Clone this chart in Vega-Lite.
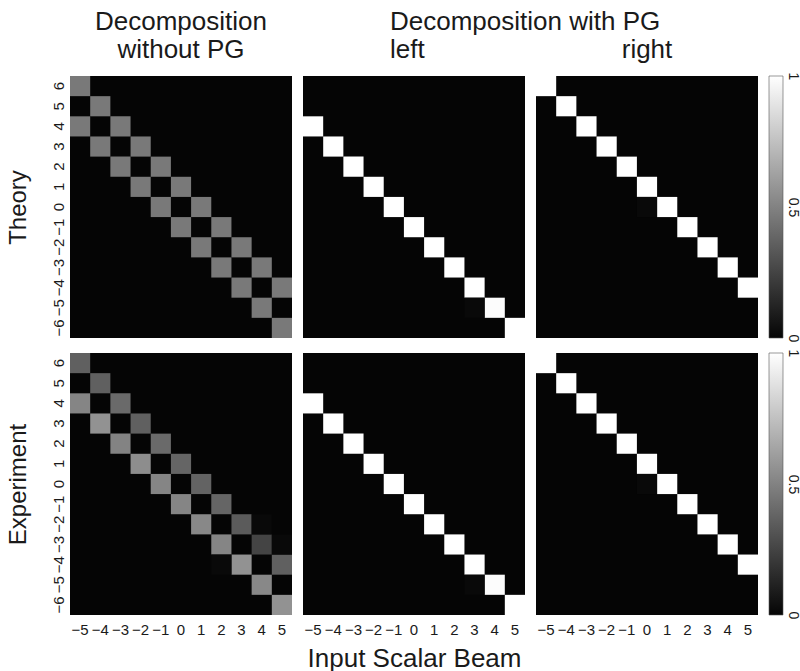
{
  "$schema": "https://vega.github.io/schema/vega-lite/v6.json",
  "padding": {"left": 6, "top": 9, "right": 2, "bottom": 5},
  "background": "white",
  "config": {
    "font": "Liberation Sans",
    "view": {"stroke": null},
    "title": {"fontSize": 26, "fontWeight": "normal", "lineHeight": 28, "offset": 13, "color": "#1a1a1a", "font": "Liberation Sans"},
    "axis": {"labelFont": "Liberation Sans", "titleFont": "Liberation Sans", "labelColor": "#1a1a1a", "titleColor": "#1a1a1a", "labelFontSize": 15, "titleFontSize": 24, "titleFontWeight": "normal", "ticks": false, "tickSize": 0, "domain": false, "grid": false}
  },
  "datasets": {
    "cells": [
      {"r": "Theory", "p": "none", "x": -5, "y": 6, "v": 0.5},
      {"r": "Theory", "p": "none", "x": -4, "y": 5, "v": 0.5},
      {"r": "Theory", "p": "none", "x": -3, "y": 4, "v": 0.5},
      {"r": "Theory", "p": "none", "x": -2, "y": 3, "v": 0.5},
      {"r": "Theory", "p": "none", "x": -1, "y": 2, "v": 0.5},
      {"r": "Theory", "p": "none", "x": 0, "y": 1, "v": 0.5},
      {"r": "Theory", "p": "none", "x": 1, "y": 0, "v": 0.5},
      {"r": "Theory", "p": "none", "x": 2, "y": -1, "v": 0.5},
      {"r": "Theory", "p": "none", "x": 3, "y": -2, "v": 0.5},
      {"r": "Theory", "p": "none", "x": 4, "y": -3, "v": 0.5},
      {"r": "Theory", "p": "none", "x": 5, "y": -4, "v": 0.5},
      {"r": "Theory", "p": "none", "x": -5, "y": 4, "v": 0.5},
      {"r": "Theory", "p": "none", "x": -4, "y": 3, "v": 0.5},
      {"r": "Theory", "p": "none", "x": -3, "y": 2, "v": 0.5},
      {"r": "Theory", "p": "none", "x": -2, "y": 1, "v": 0.5},
      {"r": "Theory", "p": "none", "x": -1, "y": 0, "v": 0.5},
      {"r": "Theory", "p": "none", "x": 0, "y": -1, "v": 0.5},
      {"r": "Theory", "p": "none", "x": 1, "y": -2, "v": 0.5},
      {"r": "Theory", "p": "none", "x": 2, "y": -3, "v": 0.5},
      {"r": "Theory", "p": "none", "x": 3, "y": -4, "v": 0.5},
      {"r": "Theory", "p": "none", "x": 4, "y": -5, "v": 0.5},
      {"r": "Theory", "p": "none", "x": 5, "y": -6, "v": 0.5},
      {"r": "Theory", "p": "left", "x": -5, "y": 4, "v": 1},
      {"r": "Theory", "p": "left", "x": -4, "y": 3, "v": 1},
      {"r": "Theory", "p": "left", "x": -3, "y": 2, "v": 1},
      {"r": "Theory", "p": "left", "x": -2, "y": 1, "v": 1},
      {"r": "Theory", "p": "left", "x": -1, "y": 0, "v": 1},
      {"r": "Theory", "p": "left", "x": 0, "y": -1, "v": 1},
      {"r": "Theory", "p": "left", "x": 1, "y": -2, "v": 1},
      {"r": "Theory", "p": "left", "x": 2, "y": -3, "v": 1},
      {"r": "Theory", "p": "left", "x": 3, "y": -4, "v": 1},
      {"r": "Theory", "p": "left", "x": 4, "y": -5, "v": 0.99},
      {"r": "Theory", "p": "left", "x": 5, "y": -6, "v": 1},
      {"r": "Theory", "p": "left", "x": 3, "y": -5, "v": 0.012},
      {"r": "Theory", "p": "right", "x": -5, "y": 6, "v": 1},
      {"r": "Theory", "p": "right", "x": -4, "y": 5, "v": 1},
      {"r": "Theory", "p": "right", "x": -3, "y": 4, "v": 1},
      {"r": "Theory", "p": "right", "x": -2, "y": 3, "v": 1},
      {"r": "Theory", "p": "right", "x": -1, "y": 2, "v": 1},
      {"r": "Theory", "p": "right", "x": 0, "y": 1, "v": 1},
      {"r": "Theory", "p": "right", "x": 1, "y": 0, "v": 1},
      {"r": "Theory", "p": "right", "x": 2, "y": -1, "v": 1},
      {"r": "Theory", "p": "right", "x": 3, "y": -2, "v": 1},
      {"r": "Theory", "p": "right", "x": 4, "y": -3, "v": 1},
      {"r": "Theory", "p": "right", "x": 5, "y": -4, "v": 1},
      {"r": "Theory", "p": "right", "x": 0, "y": 0, "v": 0.01},
      {"r": "Experiment", "p": "none", "x": -5, "y": 6, "v": 0.4},
      {"r": "Experiment", "p": "none", "x": -4, "y": 5, "v": 0.4},
      {"r": "Experiment", "p": "none", "x": -3, "y": 4, "v": 0.44},
      {"r": "Experiment", "p": "none", "x": -2, "y": 3, "v": 0.4},
      {"r": "Experiment", "p": "none", "x": -1, "y": 2, "v": 0.44},
      {"r": "Experiment", "p": "none", "x": 0, "y": 1, "v": 0.42},
      {"r": "Experiment", "p": "none", "x": 1, "y": 0, "v": 0.41},
      {"r": "Experiment", "p": "none", "x": 2, "y": -1, "v": 0.42},
      {"r": "Experiment", "p": "none", "x": 3, "y": -2, "v": 0.38},
      {"r": "Experiment", "p": "none", "x": 4, "y": -3, "v": 0.28},
      {"r": "Experiment", "p": "none", "x": 5, "y": -4, "v": 0.4},
      {"r": "Experiment", "p": "none", "x": -5, "y": 4, "v": 0.55},
      {"r": "Experiment", "p": "none", "x": -4, "y": 3, "v": 0.6},
      {"r": "Experiment", "p": "none", "x": -3, "y": 2, "v": 0.54},
      {"r": "Experiment", "p": "none", "x": -2, "y": 1, "v": 0.58},
      {"r": "Experiment", "p": "none", "x": -1, "y": 0, "v": 0.55},
      {"r": "Experiment", "p": "none", "x": 0, "y": -1, "v": 0.55},
      {"r": "Experiment", "p": "none", "x": 1, "y": -2, "v": 0.56},
      {"r": "Experiment", "p": "none", "x": 2, "y": -3, "v": 0.55},
      {"r": "Experiment", "p": "none", "x": 3, "y": -4, "v": 0.6},
      {"r": "Experiment", "p": "none", "x": 4, "y": -5, "v": 0.56},
      {"r": "Experiment", "p": "none", "x": 5, "y": -6, "v": 0.6},
      {"r": "Experiment", "p": "none", "x": 4, "y": -2, "v": 0.01},
      {"r": "Experiment", "p": "none", "x": 5, "y": -3, "v": 0.01},
      {"r": "Experiment", "p": "none", "x": 2, "y": -4, "v": 0.01},
      {"r": "Experiment", "p": "left", "x": -5, "y": 4, "v": 1},
      {"r": "Experiment", "p": "left", "x": -4, "y": 3, "v": 1},
      {"r": "Experiment", "p": "left", "x": -3, "y": 2, "v": 1},
      {"r": "Experiment", "p": "left", "x": -2, "y": 1, "v": 1},
      {"r": "Experiment", "p": "left", "x": -1, "y": 0, "v": 1},
      {"r": "Experiment", "p": "left", "x": 0, "y": -1, "v": 1},
      {"r": "Experiment", "p": "left", "x": 1, "y": -2, "v": 1},
      {"r": "Experiment", "p": "left", "x": 2, "y": -3, "v": 1},
      {"r": "Experiment", "p": "left", "x": 3, "y": -4, "v": 1},
      {"r": "Experiment", "p": "left", "x": 4, "y": -5, "v": 0.99},
      {"r": "Experiment", "p": "left", "x": 5, "y": -6, "v": 1},
      {"r": "Experiment", "p": "left", "x": 3, "y": -5, "v": 0.012},
      {"r": "Experiment", "p": "right", "x": -5, "y": 6, "v": 1},
      {"r": "Experiment", "p": "right", "x": -4, "y": 5, "v": 1},
      {"r": "Experiment", "p": "right", "x": -3, "y": 4, "v": 1},
      {"r": "Experiment", "p": "right", "x": -2, "y": 3, "v": 1},
      {"r": "Experiment", "p": "right", "x": -1, "y": 2, "v": 1},
      {"r": "Experiment", "p": "right", "x": 0, "y": 1, "v": 1},
      {"r": "Experiment", "p": "right", "x": 1, "y": 0, "v": 1},
      {"r": "Experiment", "p": "right", "x": 2, "y": -1, "v": 1},
      {"r": "Experiment", "p": "right", "x": 3, "y": -2, "v": 1},
      {"r": "Experiment", "p": "right", "x": 4, "y": -3, "v": 1},
      {"r": "Experiment", "p": "right", "x": 5, "y": -4, "v": 1},
      {"r": "Experiment", "p": "right", "x": 0, "y": 0, "v": 0.01}
    ]
  },
  "columns": 4,
  "align": "each",
  "bounds": "flush",
  "spacing": {"row": 15, "column": 11},
  "concat": [
    {
      "title": {"text": ["Decomposition", "without PG"], "anchor": "middle"},
      "width": 222, "height": 262,
      "view": {"fill": "#050505", "stroke": null},
      "data": {"name": "cells"},
      "transform": [{"filter": "datum.r === 'Theory' && datum.p === 'none'"}],
      "mark": {"type": "rect"},
      "encoding": {
        "x": {"field": "x", "type": "ordinal", "scale": {"domain": [-5, -4, -3, -2, -1, 0, 1, 2, 3, 4, 5]}, "axis": null},
        "y": {"field": "y", "type": "ordinal", "scale": {"domain": [6, 5, 4, 3, 2, 1, 0, -1, -2, -3, -4, -5, -6]}, "axis": {"title": "Theory", "labelAngle": 270, "labelPadding": 4, "titlePadding": 21, "labelExpr": "replace(datum.label, '-', '−')"}},
        "color": {"field": "v", "type": "quantitative", "scale": {"domain": [0, 1], "range": ["#050505", "#ffffff"]}, "legend": null}
      }
    },
    {
      "title": {"text": ["Decomposition with PG", "left"], "anchor": "start", "dx": 87},
      "width": 222, "height": 262,
      "view": {"fill": "#050505", "stroke": null},
      "data": {"name": "cells"},
      "transform": [{"filter": "datum.r === 'Theory' && datum.p === 'left'"}],
      "mark": {"type": "rect"},
      "encoding": {
        "x": {"field": "x", "type": "ordinal", "scale": {"domain": [-5, -4, -3, -2, -1, 0, 1, 2, 3, 4, 5]}, "axis": null},
        "y": {"field": "y", "type": "ordinal", "scale": {"domain": [6, 5, 4, 3, 2, 1, 0, -1, -2, -3, -4, -5, -6]}, "axis": null},
        "color": {"field": "v", "type": "quantitative", "scale": {"domain": [0, 1], "range": ["#050505", "#ffffff"]}, "legend": null}
      }
    },
    {
      "title": {"text": "right", "anchor": "middle"},
      "width": 222, "height": 262,
      "view": {"fill": "#050505", "stroke": null},
      "data": {"name": "cells"},
      "transform": [{"filter": "datum.r === 'Theory' && datum.p === 'right'"}],
      "mark": {"type": "rect"},
      "encoding": {
        "x": {"field": "x", "type": "ordinal", "scale": {"domain": [-5, -4, -3, -2, -1, 0, 1, 2, 3, 4, 5]}, "axis": null},
        "y": {"field": "y", "type": "ordinal", "scale": {"domain": [6, 5, 4, 3, 2, 1, 0, -1, -2, -3, -4, -5, -6]}, "axis": null},
        "color": {"field": "v", "type": "quantitative", "scale": {"domain": [0, 1], "range": ["#050505", "#ffffff"]}, "legend": null}
      }
    },
    {
      "width": 14, "height": 262,
      "data": {"values": [{"lo": 0, "hi": 1}]},
      "mark": {"type": "rect", "fill": {"gradient": "linear", "x1": 0, "y1": 1, "x2": 0, "y2": 0, "stops": [{"offset": 0, "color": "#050505"}, {"offset": 1, "color": "#ffffff"}]}, "stroke": "#555555", "strokeWidth": 0.6},
      "encoding": {
        "y": {"field": "lo", "type": "quantitative", "scale": {"domain": [0, 1]}, "axis": {"orient": "right", "values": [0, 0.5, 1], "format": "~g", "labelAngle": 90, "labelFontSize": 14, "labelPadding": 2, "title": null, "labelFlush": true}},
        "y2": {"field": "hi"}
      }
    },
    {
      "width": 222, "height": 262,
      "view": {"fill": "#050505", "stroke": null},
      "data": {"name": "cells"},
      "transform": [{"filter": "datum.r === 'Experiment' && datum.p === 'none'"}],
      "mark": {"type": "rect"},
      "encoding": {
        "x": {"field": "x", "type": "ordinal", "scale": {"domain": [-5, -4, -3, -2, -1, 0, 1, 2, 3, 4, 5]}, "axis": {"title": null, "labelAngle": 0, "labelPadding": 7, "labelExpr": "replace(datum.label, '-', '−')"}},
        "y": {"field": "y", "type": "ordinal", "scale": {"domain": [6, 5, 4, 3, 2, 1, 0, -1, -2, -3, -4, -5, -6]}, "axis": {"title": "Experiment", "labelAngle": 270, "labelPadding": 4, "titlePadding": 21, "labelExpr": "replace(datum.label, '-', '−')"}},
        "color": {"field": "v", "type": "quantitative", "scale": {"domain": [0, 1], "range": ["#050505", "#ffffff"]}, "legend": null}
      }
    },
    {
      "width": 222, "height": 262,
      "view": {"fill": "#050505", "stroke": null},
      "data": {"name": "cells"},
      "transform": [{"filter": "datum.r === 'Experiment' && datum.p === 'left'"}],
      "mark": {"type": "rect"},
      "encoding": {
        "x": {"field": "x", "type": "ordinal", "scale": {"domain": [-5, -4, -3, -2, -1, 0, 1, 2, 3, 4, 5]}, "axis": {"title": "Input Scalar Beam", "titleFontSize": 26, "labelAngle": 0, "labelPadding": 7, "titlePadding": 8, "labelExpr": "replace(datum.label, '-', '−')"}},
        "y": {"field": "y", "type": "ordinal", "scale": {"domain": [6, 5, 4, 3, 2, 1, 0, -1, -2, -3, -4, -5, -6]}, "axis": null},
        "color": {"field": "v", "type": "quantitative", "scale": {"domain": [0, 1], "range": ["#050505", "#ffffff"]}, "legend": null}
      }
    },
    {
      "width": 222, "height": 262,
      "view": {"fill": "#050505", "stroke": null},
      "data": {"name": "cells"},
      "transform": [{"filter": "datum.r === 'Experiment' && datum.p === 'right'"}],
      "mark": {"type": "rect"},
      "encoding": {
        "x": {"field": "x", "type": "ordinal", "scale": {"domain": [-5, -4, -3, -2, -1, 0, 1, 2, 3, 4, 5]}, "axis": {"title": null, "labelAngle": 0, "labelPadding": 7, "labelExpr": "replace(datum.label, '-', '−')"}},
        "y": {"field": "y", "type": "ordinal", "scale": {"domain": [6, 5, 4, 3, 2, 1, 0, -1, -2, -3, -4, -5, -6]}, "axis": null},
        "color": {"field": "v", "type": "quantitative", "scale": {"domain": [0, 1], "range": ["#050505", "#ffffff"]}, "legend": null}
      }
    },
    {
      "width": 14, "height": 262,
      "data": {"values": [{"lo": 0, "hi": 1}]},
      "mark": {"type": "rect", "fill": {"gradient": "linear", "x1": 0, "y1": 1, "x2": 0, "y2": 0, "stops": [{"offset": 0, "color": "#050505"}, {"offset": 1, "color": "#ffffff"}]}, "stroke": "#555555", "strokeWidth": 0.6},
      "encoding": {
        "y": {"field": "lo", "type": "quantitative", "scale": {"domain": [0, 1]}, "axis": {"orient": "right", "values": [0, 0.5, 1], "format": "~g", "labelAngle": 90, "labelFontSize": 14, "labelPadding": 2, "title": null, "labelFlush": true}},
        "y2": {"field": "hi"}
      }
    }
  ]
}
